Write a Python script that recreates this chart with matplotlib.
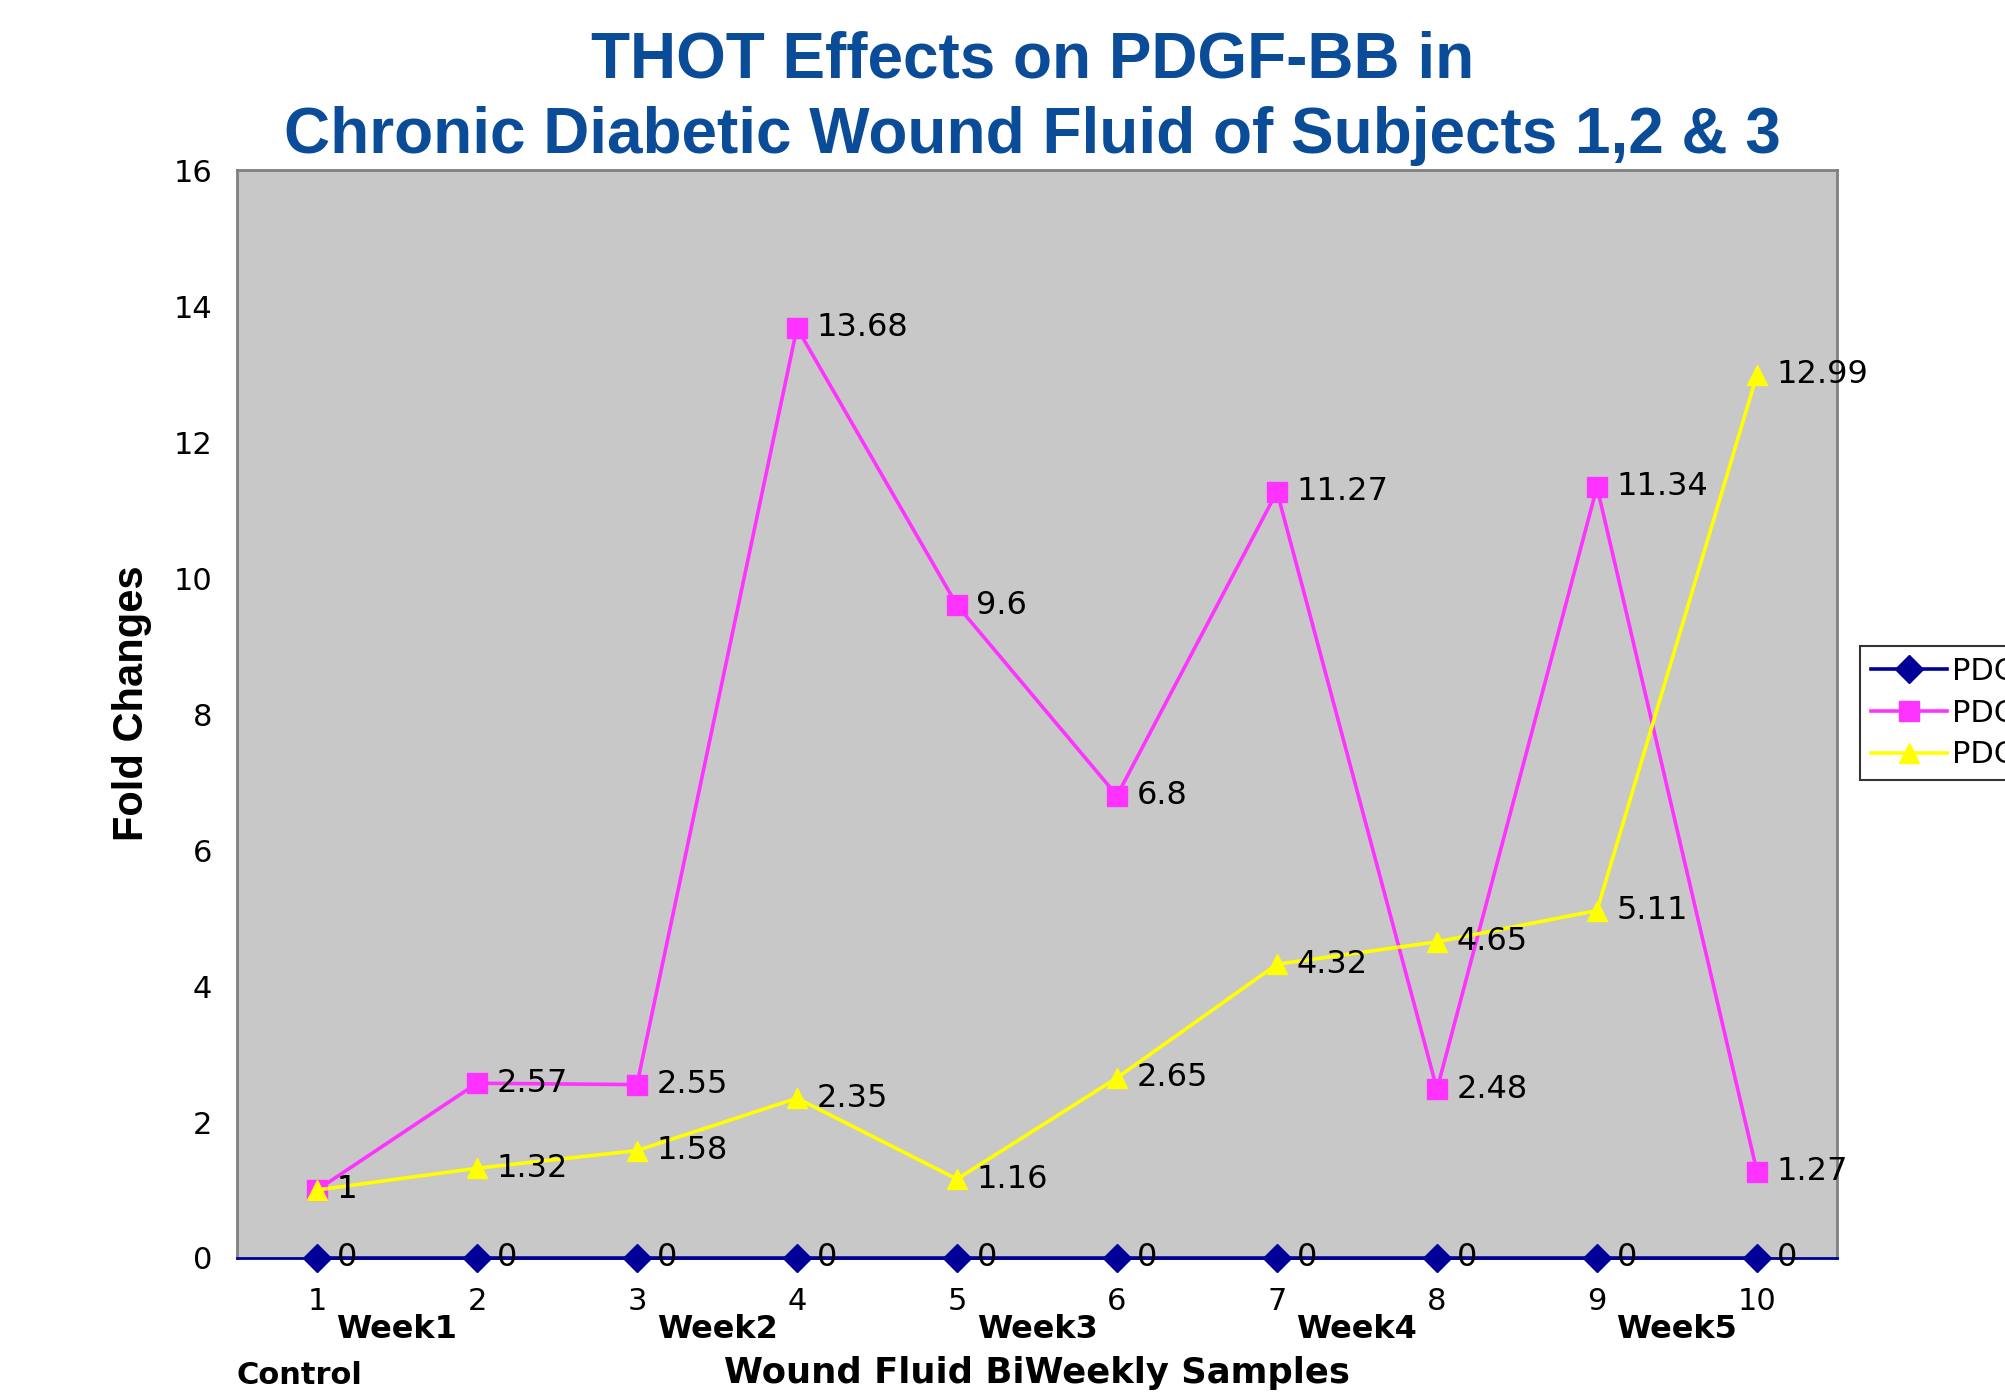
import matplotlib
matplotlib.use("Agg")
import matplotlib.pyplot as plt

# ---- data ----
samples = [1, 2, 3, 4, 5, 6, 7, 8, 9, 10]
tick_labels = ["1", "2", "3", "4", "5", "6", "7", "8", "9", "10"]
week_pos = [1.5, 3.5, 5.5, 7.5, 9.5]
week_labels = ["Week1", "Week2", "Week3", "Week4", "Week5"]
subject1 = [0, 0, 0, 0, 0, 0, 0, 0, 0, 0]
subject2 = [1, 2.57, 2.55, 13.68, 9.6, 6.8, 11.27, 2.48, 11.34, 1.27]
subject3 = [1, 1.32, 1.58, 2.35, 1.16, 2.65, 4.32, 4.65, 5.11, 12.99]
series_names = ["PDGF-BB Subject 1", "PDGF-BB Subject 2", "PDGF-BB Subject 3"]
yticks = [0, 2, 4, 6, 8, 10, 12, 14, 16]

fig = plt.figure(figsize=(20.05, 13.97), dpi=100)
ax = fig.add_axes([0.1182, 0.0995, 0.798, 0.7788])
ax.set_facecolor("#C8C8C8")

styles = [
    (subject1, "#000099", "D"),
    (subject2, "#FF33FF", "s"),
    (subject3, "#FFFF00", "^"),
]
lines = []
for i, (vals, col, mk) in enumerate(styles):
    ln, = ax.plot(samples, vals, color=col, marker=mk, markersize=14,
                  linewidth=2.6, markeredgecolor=col, zorder=3 + i,
                  clip_on=False, label=series_names[i])
    lines.append(ln)
    for x, v in zip(samples, vals):
        ax.annotate(f"{v:g}", (x, v), xytext=(14, 0), textcoords="offset points",
                    ha="left", va="center", fontsize=23, color="black",
                    family="DejaVu Sans", zorder=10, annotation_clip=False)

ax.set_xlim(0.5, 10.5)
ax.set_ylim(0, 16)
ax.set_yticks(yticks)
ax.set_yticklabels([str(t) for t in yticks])
ax.set_xticks(samples)
ax.set_xticklabels(tick_labels)
ax.set_xticks(week_pos, labels=week_labels, minor=True)
ax.tick_params(axis="x", which="major", length=0, pad=21, labelsize=22)
ax.tick_params(axis="x", which="minor", length=0, pad=40, labelsize=23)
for t in ax.get_xticklabels(minor=True):
    t.set_fontweight("bold")
ax.tick_params(axis="y", length=0, pad=18, labelsize=22)

for s in ["left", "right", "top"]:
    ax.spines[s].set_color("#808080")
    ax.spines[s].set_linewidth(2)
ax.spines["bottom"].set_color("#000099")
ax.spines["bottom"].set_linewidth(2)

ax.set_xlabel("Wound Fluid BiWeekly Samples", fontsize=25.5, fontweight="bold")
ax.xaxis.set_label_coords(0.5, -0.090)
ax.set_ylabel("Fold Changes", fontsize=30, fontweight="bold",
              family=["Liberation Sans", "DejaVu Sans"])
ax.yaxis.set_label_coords(-0.053, 0.51)

fig.text(237 / 2005, 1 - 1376 / 1397, "Control", fontsize=22, fontweight="bold",
         ha="left", va="center")

title_color = "#0A4C97"
fig.text(0.515, 1 - 61 / 1397, "THOT Effects on PDGF-BB in", fontsize=46,
         fontweight="bold", color=title_color, ha="center", va="center",
         family=["Liberation Sans", "DejaVu Sans"])
fig.text(0.515, 1 - 136 / 1397, "Chronic Diabetic Wound Fluid of Subjects 1,2 & 3",
         fontsize=46, fontweight="bold", color=title_color, ha="center", va="center",
         family=["Liberation Sans", "DejaVu Sans"])

leg = fig.legend(handles=lines, loc="upper left",
                 bbox_to_anchor=(1860 / 2005, 1 - 646 / 1397),
                 fontsize=22, frameon=True, fancybox=False, edgecolor="black",
                 handlelength=2.5, handletextpad=0.15, labelspacing=0.42,
                 borderpad=0.35, borderaxespad=0, markerscale=1.0)
leg.get_frame().set_linewidth(1.5)

fig.savefig("out.png", dpi=100)
